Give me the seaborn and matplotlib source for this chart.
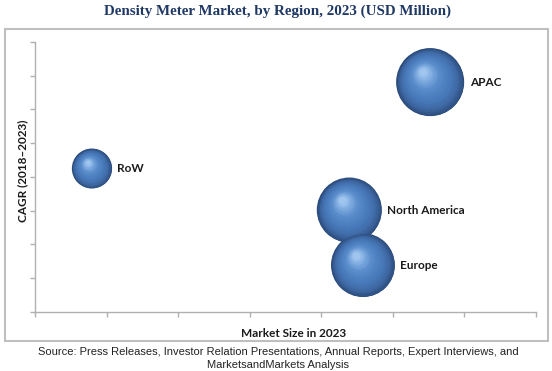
import numpy as np
import pandas as pd
import matplotlib
matplotlib.use('Agg')
import matplotlib.pyplot as plt
import matplotlib.colors as mcolors
from matplotlib.transforms import ScaledTranslation
from matplotlib.patches import Rectangle
import seaborn as sns

# data (axis has no tick labels: x 0-7, y 0-8 units)
regions = ['RoW', 'North America', 'Europe', 'APAC']
market_size = [0.79, 4.39, 4.58, 5.52]
cagr = [4.25, 3.02, 1.39, 6.81]
bubble_value = [40, 106, 102, 116]

df = pd.DataFrame({'region': regions, 'market_size': market_size,
                   'cagr': cagr, 'bubble': bubble_value})

sns.set_style('white')
plt.rcParams['font.family'] = ['Lato', 'DejaVu Sans']

fig = plt.figure(figsize=(5.52, 3.71), dpi=100)
ax = fig.add_axes([0.064, 0.159, 0.907, 0.728])

k = 20.7  # marker area per bubble unit
vmax = max(bubble_value)
sns.scatterplot(data=df, x='market_size', y='cagr', size='bubble',
                sizes=(0, k * vmax), size_norm=(0, vmax), color='#2c4c7c',
                linewidth=0, legend=False, ax=ax, zorder=2)

# fake 3d shading: shrinking, lighter circles shifted to the upper left
sphere = mcolors.LinearSegmentedColormap.from_list(
    'sphere', ['#2c4c7c', '#3f69a4', '#4777b8', '#4f82c2', '#5c8ecc', '#7aa8de', '#a0c6ef'])
n_layers = 45
for xi, yi, bi in zip(market_size, cagr, bubble_value):
    s0 = k * bi
    r_pt = np.sqrt(s0) / 2
    for t in np.linspace(0, 1, n_layers)[1:]:
        scale = 1 - 0.9 * t
        dx = -0.24 * (1 - scale) * r_pt
        dy = 0.34 * (1 - scale) * r_pt
        tr = ax.transData + ScaledTranslation(dx / 72, dy / 72, fig.dpi_scale_trans)
        ax.scatter([xi], [yi], s=s0 * scale ** 2, color=sphere(t),
                   linewidth=0, transform=tr, zorder=3)

for name, xi, yi, bi in zip(regions, market_size, cagr, bubble_value):
    r_pt = np.sqrt(k * bi) / 2
    ax.annotate(name, (xi, yi), xytext=(r_pt + 4, 0), textcoords='offset points',
                ha='left', va='center', fontsize=8.5, fontweight='bold', color='#1a1a1a')

ax.set_xlim(0, 7)
ax.set_ylim(0, 8)
ax.set_xticks(range(8))
ax.set_yticks(range(9))
ax.set_xticklabels([])
ax.set_yticklabels([])
sns.despine(ax=ax)
for side in ['left', 'bottom']:
    ax.spines[side].set_color('#b0b0b0')
    ax.spines[side].set_linewidth(1.0)
ax.tick_params(axis='both', which='major', bottom=True, left=True, direction='out',
               length=3.5, width=1.0, color='#b0b0b0')

ax.set_xlabel('Market Size in 2023', fontsize=8.5, fontweight='bold', color='#1a1a1a')
ax.set_ylabel('CAGR (2018\u20132023)', fontsize=8.5, fontweight='bold', color='#1a1a1a')
ax.xaxis.set_label_coords(0.515, -0.059)
ax.yaxis.set_label_coords(-0.014, 0.522)

fig.text(278 / 552, 1 - 11 / 371, 'Density Meter Market, by Region, 2023 (USD Million)',
         ha='center', va='center', fontsize=10.8, fontweight='bold',
         family='Liberation Serif', color='#1f3864')

fig.patches.append(Rectangle((5 / 552, 30 / 371), 543 / 552, 312 / 371,
                             transform=fig.transFigure, fill=False,
                             edgecolor='#bfbfbf', linewidth=1.5))

fig.text(278 / 552, 1 - 352 / 371,
         'Source: Press Releases, Investor Relation Presentations, Annual Reports, Expert Interviews, and',
         ha='center', va='center', fontsize=8, family='Liberation Sans', color='#222222')
fig.text(278 / 552, 1 - 365 / 371, 'MarketsandMarkets Analysis',
         ha='center', va='center', fontsize=8, family='Liberation Sans', color='#222222')

fig.savefig('out.png', dpi=100)
